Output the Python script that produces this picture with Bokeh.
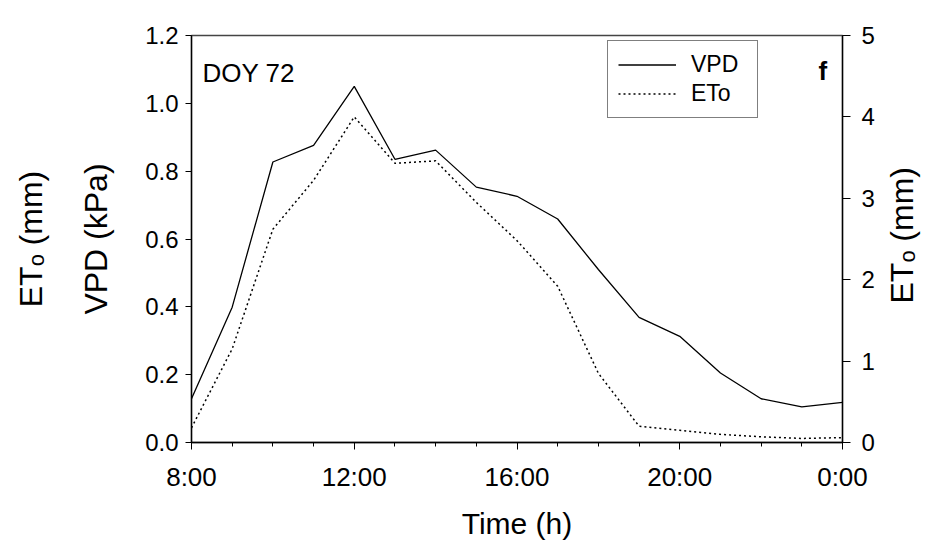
import math
from bokeh.plotting import figure
from bokeh.models import (Range1d, LinearAxis, FixedTicker, Label, Legend,
                          LegendItem, PrintfTickFormatter, ColumnDataSource)
from bokeh.embed import file_html
from bokeh.resources import INLINE

# ---------------- data ----------------
hours = [8, 9, 10, 11, 12, 13, 14, 15, 16, 17, 18, 19, 20, 21, 22, 23, 24]
vpd_kpa = [0.129, 0.399, 0.827, 0.876, 1.050, 0.835, 0.862, 0.753, 0.726,
           0.659, 0.510, 0.369, 0.313, 0.205, 0.129, 0.105, 0.118]
eto_mm = [0.18, 1.15, 2.62, 3.22, 4.00, 3.43, 3.46, 2.95, 2.48,
          1.92, 0.85, 0.20, 0.15, 0.10, 0.07, 0.05, 0.06]
x_major = [8, 12, 16, 20, 24]
x_tick_labels = ["8:00", "12:00", "16:00", "20:00", "0:00"]
vpd_ticks = [0.0, 0.2, 0.4, 0.6, 0.8, 1.0, 1.2]
eto_ticks = [0, 1, 2, 3, 4, 5]
series_names = ["VPD", "ETo"]
panel_id = "DOY 72"
panel_letter = "f"
x_title = "Time (h)"
vpd_title = "VPD (kPa)"
eto_title = "ET\u2092 (mm)"

FONT = "Liberation Sans"
W, H = 944, 543
FL, FR, FT, FB = 191, 842, 35, 442  # frame edges in px

src = ColumnDataSource(dict(h=hours, vpd=vpd_kpa, eto=eto_mm))

p = figure(width=W, height=H, output_backend="svg", toolbar_location=None,
           x_range=Range1d(8, 24), y_range=Range1d(0, 1.2),
           min_border_left=FL, min_border_right=W - FR,
           min_border_top=FT, min_border_bottom=H - FB)
p.extra_y_ranges = {"eto": Range1d(0, 5)}
p.xgrid.visible = False
p.ygrid.visible = False
p.background_fill_color = "white"
p.border_fill_color = "white"
p.outline_line_color = "#444444"
p.outline_line_width = 1.5


def style_title(ax, size="32px"):
    ax.axis_label_text_font = FONT
    ax.axis_label_text_font_size = size
    ax.axis_label_text_font_style = "normal"
    ax.axis_label_text_color = "black"


def title_axis(**kw):
    return LinearAxis(axis_line_color=None, major_tick_line_color=None,
                      minor_tick_line_color=None, major_tick_out=0,
                      minor_tick_out=0, **kw)


# x axis
xa = p.xaxis[0]
xa.ticker = FixedTicker(ticks=x_major, minor_ticks=hours)
xa.major_label_overrides = {k: v for k, v in zip(x_major, x_tick_labels)}
xa.major_label_text_font = FONT
xa.major_label_text_font_size = "26px"
xa.major_label_text_color = "black"
xa.major_label_standoff = 12
xa.major_tick_out = 7
xa.major_tick_in = 0
xa.minor_tick_out = 4
xa.minor_tick_in = 0
xa.axis_line_color = "black"
xa.axis_line_width = 1.3
xa.major_tick_line_color = "black"
xa.minor_tick_line_color = "black"
xa.axis_label = x_title
style_title(xa, "30px")
xa.axis_label_standoff = 12

# left axis (VPD)
ya = p.yaxis[0]
ya.ticker = FixedTicker(ticks=vpd_ticks)
ya.formatter = PrintfTickFormatter(format="%.1f")
ya.major_label_text_font = FONT
ya.major_label_text_font_size = "24px"
ya.major_label_text_color = "black"
ya.major_label_standoff = 7
ya.major_tick_out = 6
ya.major_tick_in = 0
ya.minor_tick_line_color = None
ya.axis_line_color = "black"
ya.axis_line_width = 1.3
ya.major_tick_line_color = "black"
ya.axis_label = vpd_title
style_title(ya)
ya.axis_label_standoff = 28

# second left title (ETo), tickless axis further out
ea = title_axis(ticker=FixedTicker(ticks=[]), major_label_standoff=0)
ea.axis_label = eto_title
style_title(ea)
ea.axis_label_standoff = 27
p.add_layout(ea, "left")

# right axis (ETo) ticks
ra = LinearAxis(y_range_name="eto", ticker=FixedTicker(ticks=eto_ticks))
ra.major_label_text_font = FONT
ra.major_label_text_font_size = "24px"
ra.major_label_text_color = "black"
ra.major_label_standoff = 11
ra.major_tick_out = 8
ra.major_tick_in = 0
ra.minor_tick_line_color = None
ra.axis_line_color = "black"
ra.axis_line_width = 1.3
ra.major_tick_line_color = "black"
p.add_layout(ra, "right")

# right title: one unmarked tick where the upward-reading title starts
title_start = (FB - 303) * 5.0 / (FB - FT)
rt = title_axis(y_range_name="eto", ticker=FixedTicker(ticks=[title_start]),
                major_label_standoff=24)
rt.major_label_overrides = {title_start: eto_title}
rt.major_label_orientation = math.pi / 2
rt.major_label_text_font = FONT
rt.major_label_text_font_size = "32px"
rt.major_label_text_color = "black"
p.add_layout(rt, "right")

# lines
r_vpd = p.line("h", "vpd", source=src, line_color="black", line_width=1.3)
r_eto = p.line("h", "eto", source=src, y_range_name="eto", line_color="black",
               line_width=1.5, line_dash="2 3")

legend = Legend(items=[LegendItem(label=series_names[0], renderers=[r_vpd]),
                       LegendItem(label=series_names[1], renderers=[r_eto])],
                location=(607 - FL, FB - 118))
legend.label_text_font = FONT
legend.label_text_font_size = "23px"
legend.label_text_color = "black"
legend.glyph_width = 58
legend.glyph_height = 25
legend.label_height = 25
legend.label_width = 56
legend.label_standoff = 15
legend.spacing = 2
legend.padding = 10
legend.border_line_color = "black"
legend.border_line_width = 1.2
legend.background_fill_color = "white"
legend.background_fill_alpha = 1
p.add_layout(legend)


def dx(sx):
    return 8 + (sx - FL) * 16.0 / (FR - FL)


def dy(sy):
    return (FB - sy) * 1.2 / (FB - FT)


def lab(text, sx, sy, size, style="normal"):
    p.add_layout(Label(x=dx(sx), y=dy(sy), text=text,
                       text_font=FONT, text_font_size=size, text_color="black",
                       text_align="left", text_baseline="alphabetic",
                       text_font_style=style))


lab(panel_id, 202, 72, "26px")
lab(panel_letter, 818, 70, "26px", style="bold")

open("out.html", "w").write(file_html(p, INLINE))
